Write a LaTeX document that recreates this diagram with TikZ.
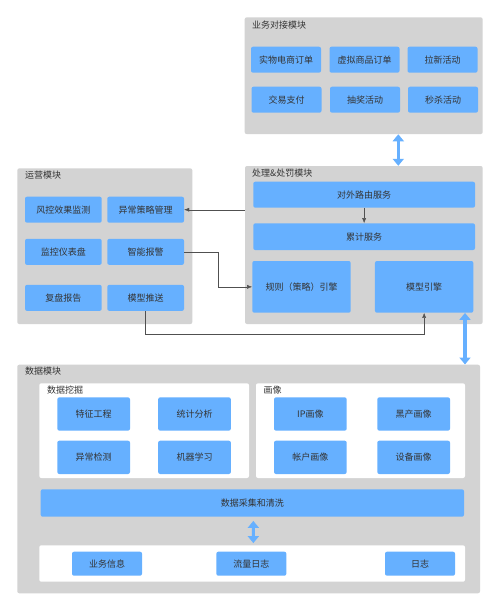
\documentclass[tikz,border=0pt]{standalone}
\usepackage{fontspec}
\setmainfont{Noto Sans CJK SC}
\usetikzlibrary{arrows.meta}
\definecolor{panelGray}{RGB}{211,211,211}
\definecolor{itemBlue}{RGB}{102,176,255}
\definecolor{labelGray}{RGB}{51,51,51}
\definecolor{lineGray}{RGB}{80,80,80}
\newcommand{\boxFont}{\fontsize{9}{10.5}\selectfont}
\tikzset{
  moduleBox/.style={fill=panelGray, rounded corners=2pt, inner sep=0pt},
  subBox/.style={fill=white, rounded corners=2pt, inner sep=0pt},
  itemBox/.style={fill=itemBlue, rounded corners=2pt, inner sep=0pt, text=labelGray, font=\boxFont},
  moduleTitle/.style={anchor=west, inner sep=0pt, text=labelGray, font=\boxFont},
  flowArrow/.style={draw=lineGray, -{Latex[length=5pt,width=4pt]}},
  bigArrow/.style={draw=itemBlue, line width=3.5pt, {Triangle[width=11pt,length=7pt]}-{Triangle[width=11pt,length=7pt]}},
}

\begin{document}
\begin{tikzpicture}[x=1pt, y=-1pt]
\useasboundingbox (0,0) rectangle (500,611);

\node[moduleBox, minimum width=238pt, minimum height=116.7pt] (bizMod) at (363.7,75.7) {};
\node[moduleTitle] (bizTitle) at (252,25) {业务对接模块};
\foreach \x/\y/\n/\txt in {286/59.7/1/实物电商订单, 364.5/59.7/2/虚拟商品订单, 442.5/59.7/3/拉新活动,
  286.5/99.7/4/交易支付, 365/99.7/5/抽奖活动, 443/99.7/6/秒杀活动}
  \node[itemBox, minimum width=70pt, minimum height=26pt] (biz\n) at (\x,\y) {\txt};

\node[moduleBox, minimum width=175pt, minimum height=155.7pt] (opsMod) at (104.8,246.2) {};
\node[moduleTitle] (opsTitle) at (25,175) {运营模块};
\node[itemBox, minimum width=76.7pt, minimum height=26pt] (riskMon) at (63.35,209.7) {风控效果监测};
\node[itemBox, minimum width=76.7pt, minimum height=26pt] (policyMgr) at (145.65,209.7) {异常策略管理};
\node[itemBox, minimum width=76.7pt, minimum height=26pt] (dashBoard) at (63.35,251.85) {监控仪表盘};
\node[itemBox, minimum width=76.7pt, minimum height=26pt] (smartAlert) at (145.65,251.85) {智能报警};
\node[itemBox, minimum width=76.7pt, minimum height=26pt] (review) at (63.35,297.85) {复盘报告};
\node[itemBox, minimum width=76.7pt, minimum height=26pt] (modelPush) at (145.65,297.85) {模型推送};

\node[moduleBox, minimum width=237.7pt, minimum height=158pt] (procMod) at (363.85,245) {};
\node[moduleTitle] (procTitle) at (252,173) {处理\&处罚模块};
\node[itemBox, minimum width=221.7pt, minimum height=26pt] (route) at (364.15,194.7) {对外路由服务};
\node[itemBox, minimum width=221.7pt, minimum height=26.7pt] (counter) at (364.15,236.7) {累计服务};
\node[itemBox, minimum width=98.4pt, minimum height=51.7pt] (ruleEng) at (301.5,286.85) {规则（策略）引擎};
\node[itemBox, minimum width=98.4pt, minimum height=51.7pt] (modelEng) at (424.15,286.85) {模型引擎};

\node[moduleBox, minimum width=462.7pt, minimum height=228.6pt] (dataMod) at (248.65,479) {};
\node[moduleTitle] (dataTitle) at (25,371) {数据模块};
\node[subBox, minimum width=209.7pt, minimum height=94.7pt] (mineBox) at (144.15,430.65) {};
\node[moduleTitle] (mineTitle) at (47,390) {数据挖掘};
\node[subBox, minimum width=209pt, minimum height=94.7pt] (portraitBox) at (360.5,430.65) {};
\node[moduleTitle] (portraitTitle) at (263.5,390) {画像};
\foreach \x/\y/\n/\txt in {93.65/414/1/特征工程, 194.5/414/2/统计分析, 93.65/457.35/3/异常检测, 194.5/457.35/4/机器学习,
  310.35/414/5/IP画像, 413.65/414/6/黑产画像, 310.35/457.35/7/帐户画像, 413.65/457.35/8/设备画像}
  \node[itemBox, minimum width=72.7pt, minimum height=33.3pt] (data\n) at (\x,\y) {\txt};
\node[itemBox, minimum width=423.3pt, minimum height=27.4pt] (clean) at (252.35,503) {数据采集和清洗};
\node[subBox, minimum width=425.7pt, minimum height=36.4pt] (srcBox) at (252.15,563.5) {};
\node[itemBox, minimum width=70pt, minimum height=24pt] (bizInfo) at (107,563.7) {业务信息};
\node[itemBox, minimum width=70pt, minimum height=24pt] (trafficLog) at (251.35,563.7) {流量日志};
\node[itemBox, minimum width=70pt, minimum height=24pt] (plainLog) at (420,563.7) {日志};

\draw[bigArrow] ([xshift=34.6pt]bizMod.south) -- ([xshift=34.45pt]procMod.north);
\draw[bigArrow] ([xshift=40.85pt]modelEng.south) -- ([xshift=216.35pt]dataMod.north);
\draw[bigArrow, line width=3pt, shorten <=4pt, shorten >=2pt] ([xshift=1pt]clean.south) -- ([xshift=1.2pt]srcBox.north);

\draw[flowArrow] (route) -- (counter);
\draw[flowArrow] (procMod.west |- policyMgr.east) -- (policyMgr.east);
\draw[flowArrow] (smartAlert.east) -- ++(34.3,0) |- (ruleEng.west);
\draw[flowArrow] (modelPush.south) -- ++(0,23) -| (modelEng.south);
\end{tikzpicture}
\end{document}
